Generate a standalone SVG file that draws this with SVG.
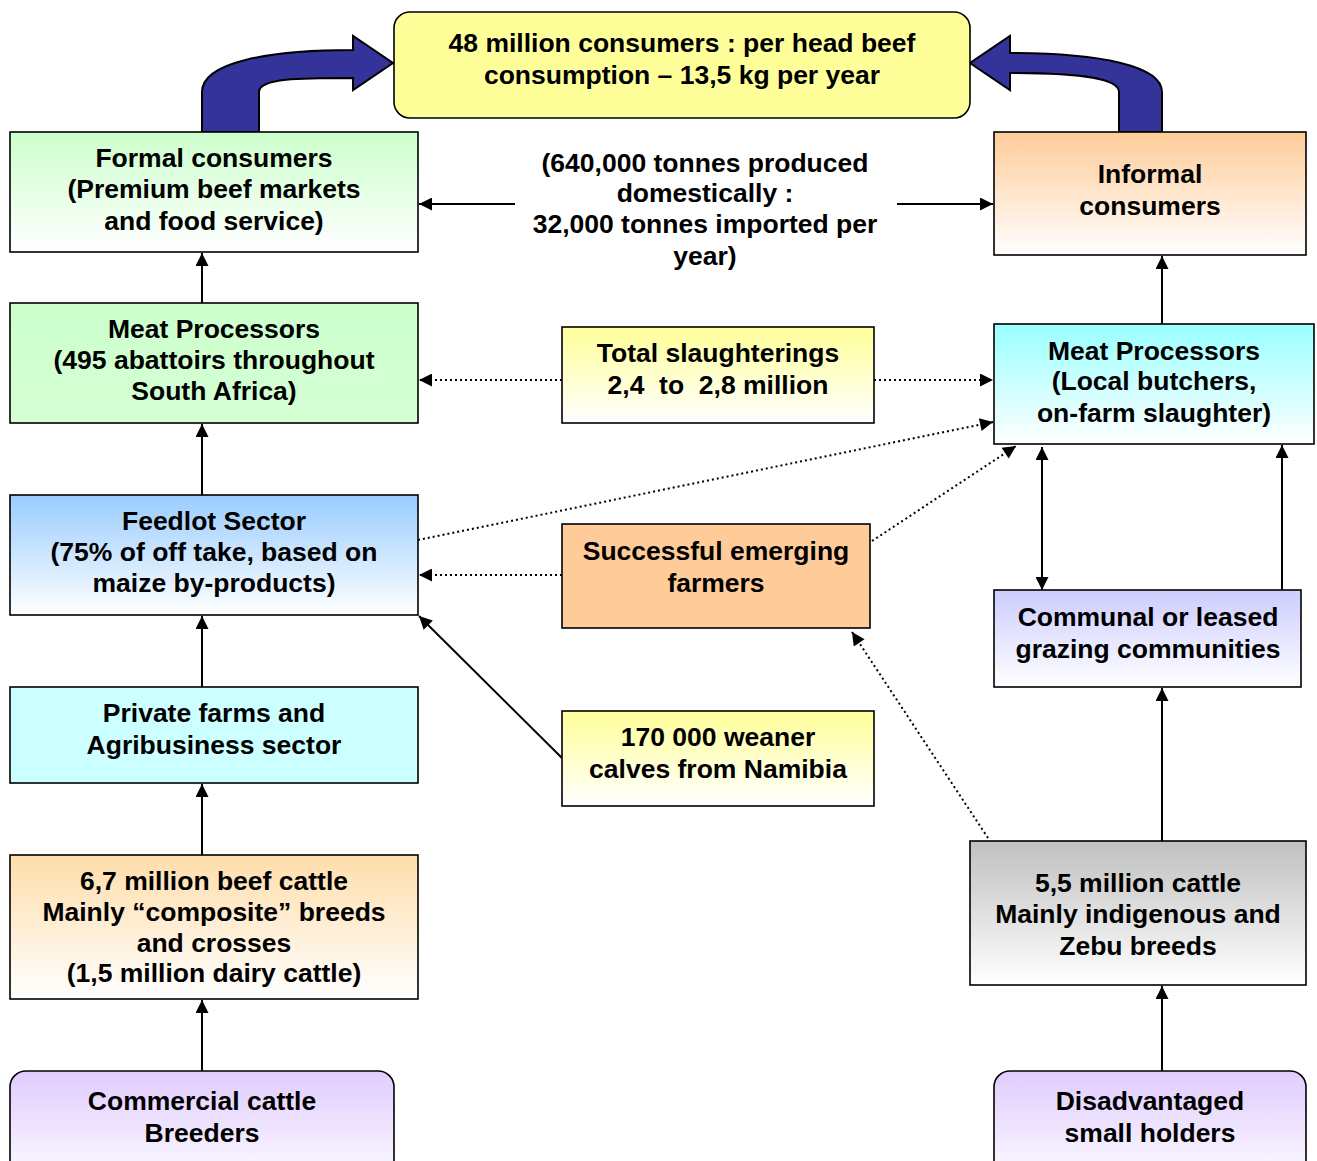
<svg xmlns="http://www.w3.org/2000/svg" width="1317" height="1161" viewBox="0 0 1317 1161">
<style>
text{font-family:"Liberation Sans",Arial,sans-serif;font-weight:bold;font-size:26.5px;fill:#000;text-anchor:middle}
.box{stroke:#000;stroke-width:1.6}
.ln{stroke:#000;stroke-width:2;fill:none}
.dot{stroke:#000;stroke-width:2;fill:none;stroke-dasharray:2 3}
.big{fill:#333399;stroke:#000;stroke-width:2}
</style>
<defs>
<marker id="ah" viewBox="0 0 12 12" refX="12" refY="6" markerWidth="15" markerHeight="13" markerUnits="userSpaceOnUse" orient="auto-start-reverse"><path d="M0,0 L12,6 L0,12 Z" fill="#000"/></marker>
<linearGradient id="gGreen" x1="0" y1="0" x2="0" y2="1"><stop offset="0" stop-color="#CCFFCC"/><stop offset="1" stop-color="#FFFFFF"/></linearGradient>
<linearGradient id="gGreen2" x1="0" y1="0" x2="0" y2="1"><stop offset="0" stop-color="#CCFFCC"/><stop offset="1" stop-color="#D4FFD4"/></linearGradient>
<linearGradient id="gPeach" x1="0" y1="0" x2="0" y2="1"><stop offset="0" stop-color="#FFCC99"/><stop offset="1" stop-color="#FFFFFF"/></linearGradient>
<linearGradient id="gPeach2" x1="0" y1="0" x2="0" y2="1"><stop offset="0" stop-color="#FFDDAA"/><stop offset="1" stop-color="#FFFFFF"/></linearGradient>
<linearGradient id="gYellow" x1="0" y1="0" x2="0" y2="1"><stop offset="0" stop-color="#FFFF99"/><stop offset="1" stop-color="#FFFFFF"/></linearGradient>
<linearGradient id="gCyan" x1="0" y1="0" x2="0" y2="1"><stop offset="0" stop-color="#99FFFF"/><stop offset="1" stop-color="#FFFFFF"/></linearGradient>
<linearGradient id="gBlue" x1="0" y1="0" x2="0" y2="1"><stop offset="0" stop-color="#99CCFF"/><stop offset="1" stop-color="#FFFFFF"/></linearGradient>
<linearGradient id="gLav" x1="0" y1="0" x2="0" y2="1"><stop offset="0" stop-color="#CCCCFF"/><stop offset="1" stop-color="#FFFFFF"/></linearGradient>
<linearGradient id="gPurp" x1="0" y1="0" x2="0" y2="1"><stop offset="0" stop-color="#E0CCFF"/><stop offset="1" stop-color="#FFFFFF"/></linearGradient>
<linearGradient id="gGray" x1="0" y1="0" x2="0" y2="1"><stop offset="0" stop-color="#C0C0C0"/><stop offset="1" stop-color="#FFFFFF"/></linearGradient>
</defs>
<rect width="1317" height="1161" fill="#fff"/>

<g id="connectors">
<path class="big" d="M202,132 L202,92 C202,62 270,50 353,50 L353,36 L393,63 L353,90 L353,78 C300,78 259,78 259,92 L259,132 Z"/>
<path class="big" d="M1162,132 L1162,92 C1162,66 1100,53 1010,53 L1010,36 L970,63 L1010,90 L1010,73 C1080,73 1119,78 1119,92 L1119,132 Z"/>
<line class="ln" x1="515" y1="204" x2="419" y2="204" marker-end="url(#ah)"/>
<line class="ln" x1="897" y1="204" x2="993" y2="204" marker-end="url(#ah)"/>
<line class="ln" x1="202" y1="303" x2="202" y2="253" marker-end="url(#ah)"/>
<line class="ln" x1="202" y1="495" x2="202" y2="424" marker-end="url(#ah)"/>
<line class="ln" x1="202" y1="687" x2="202" y2="616" marker-end="url(#ah)"/>
<line class="ln" x1="202" y1="855" x2="202" y2="784" marker-end="url(#ah)"/>
<line class="ln" x1="202" y1="1071" x2="202" y2="1000" marker-end="url(#ah)"/>
<line class="ln" x1="1162" y1="324" x2="1162" y2="256" marker-end="url(#ah)"/>
<line class="dot" x1="562" y1="380" x2="419" y2="380" marker-end="url(#ah)"/>
<line class="dot" x1="874" y1="380" x2="993" y2="380" marker-end="url(#ah)"/>
<line class="dot" x1="418" y1="540" x2="993" y2="422" marker-end="url(#ah)"/>
<line class="dot" x1="562" y1="575" x2="419" y2="575" marker-end="url(#ah)"/>
<line class="dot" x1="872" y1="541" x2="1016" y2="446" marker-end="url(#ah)"/>
<line class="ln" x1="562" y1="758" x2="419" y2="616" marker-end="url(#ah)"/>
<line class="dot" x1="988" y1="838" x2="852" y2="632" marker-end="url(#ah)"/>
<line class="ln" x1="1042" y1="447" x2="1042" y2="590" marker-start="url(#ah)" marker-end="url(#ah)"/>
<line class="ln" x1="1282" y1="590" x2="1282" y2="445" marker-end="url(#ah)"/>
<line class="ln" x1="1162" y1="841" x2="1162" y2="688" marker-end="url(#ah)"/>
<line class="ln" x1="1162" y1="1071" x2="1162" y2="986" marker-end="url(#ah)"/>
</g>

<g id="n-top"><rect class="box" x="394" y="12" width="576" height="106" rx="16" fill="#FFFF99"/>
<text x="682" y="52">48 million consumers : per head beef</text><text x="682" y="84">consumption – 13,5 kg per year</text></g>

<g id="n-formal"><rect class="box" x="10" y="132" width="408" height="120" fill="url(#gGreen)"/>
<text x="214" y="167">Formal consumers</text><text x="214" y="198">(Premium beef markets</text><text x="214" y="230">and food service)</text></g>

<g id="n-center-text"><text x="705" y="172">(640,000 tonnes produced</text><text x="705" y="202">domestically :</text><text x="705" y="233">32,000 tonnes imported per</text><text x="705" y="265">year)</text></g>

<g id="n-informal"><rect class="box" x="994" y="132" width="312" height="123" fill="url(#gPeach)"/>
<text x="1150" y="183">Informal</text><text x="1150" y="215">consumers</text></g>

<g id="n-meatL"><rect class="box" x="10" y="303" width="408" height="120" fill="url(#gGreen2)"/>
<text x="214" y="338">Meat Processors</text><text x="214" y="369">(495 abattoirs throughout</text><text x="214" y="400">South Africa)</text></g>

<g id="n-slaughter"><rect class="box" x="562" y="327" width="312" height="96" fill="url(#gYellow)"/>
<text x="718" y="362">Total slaughterings</text><text x="718" y="394" xml:space="preserve">2,4  to  2,8 million</text></g>

<g id="n-meatR"><rect class="box" x="994" y="324" width="320" height="120" fill="url(#gCyan)"/>
<text x="1154" y="360">Meat Processors</text><text x="1154" y="390">(Local butchers,</text><text x="1154" y="422">on-farm slaughter)</text></g>

<g id="n-feedlot"><rect class="box" x="10" y="495" width="408" height="120" fill="url(#gBlue)"/>
<text x="214" y="530">Feedlot Sector</text><text x="214" y="561">(75% of off take, based on</text><text x="214" y="592">maize by-products)</text></g>

<g id="n-emerging"><rect class="box" x="562" y="524" width="308" height="104" fill="#FFCC99"/>
<text x="716" y="560">Successful emerging</text><text x="716" y="592">farmers</text></g>

<g id="n-communal"><rect class="box" x="994" y="590" width="307" height="97" fill="url(#gLav)"/>
<text x="1148" y="626">Communal or leased</text><text x="1148" y="658">grazing communities</text></g>

<g id="n-private"><rect class="box" x="10" y="687" width="408" height="96" fill="#CCFFFF"/>
<text x="214" y="722">Private farms and</text><text x="214" y="754">Agribusiness sector</text></g>

<g id="n-weaner"><rect class="box" x="562" y="711" width="312" height="95" fill="url(#gYellow)"/>
<text x="718" y="746">170 000 weaner</text><text x="718" y="778">calves from Namibia</text></g>

<g id="n-beef"><rect class="box" x="10" y="855" width="408" height="144" fill="url(#gPeach2)"/>
<text x="214" y="890">6,7 million beef cattle</text><text x="214" y="921">Mainly “composite” breeds</text><text x="214" y="952">and crosses</text><text x="214" y="982">(1,5 million dairy cattle)</text></g>

<g id="n-indig"><rect class="box" x="970" y="841" width="336" height="144" fill="url(#gGray)"/>
<text x="1138" y="892">5,5 million cattle</text><text x="1138" y="923">Mainly indigenous and</text><text x="1138" y="955">Zebu breeds</text></g>

<g id="n-commercial"><rect class="box" x="10" y="1071" width="384" height="120" rx="16" fill="url(#gPurp)"/>
<text x="202" y="1110">Commercial cattle</text><text x="202" y="1142">Breeders</text></g>

<g id="n-disadv"><rect class="box" x="994" y="1071" width="312" height="120" rx="16" fill="url(#gPurp)"/>
<text x="1150" y="1110">Disadvantaged</text><text x="1150" y="1142">small holders</text></g>
</svg>
